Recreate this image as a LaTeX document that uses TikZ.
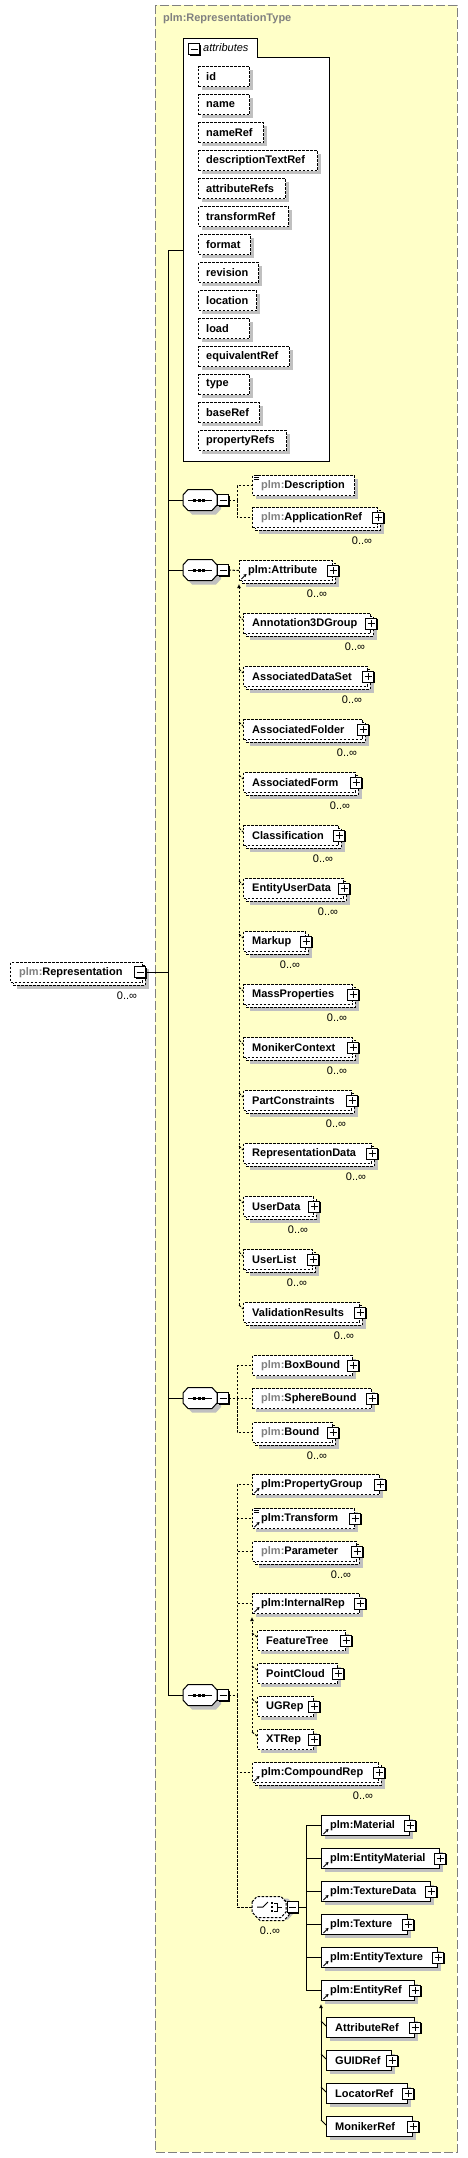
\documentclass[tikz,border=0pt]{standalone}
\usepackage{fontspec}
\setmainfont{Liberation Sans}
\usetikzlibrary{calc,arrows.meta}
\definecolor{yel}{RGB}{255,255,200}
\definecolor{shd}{RGB}{192,192,192}
\definecolor{pfx}{RGB}{128,128,128}
\definecolor{frm}{RGB}{128,128,128}
\newcommand\bh{20}
% single element box: name, left, top, right, style, text
\newcommand\ElS[6]{%
  \fill[shdfill] ({#2+4},{#3+4}) rectangle ({#4+4},{#3+\bh+4});
  \node[#5, minimum width={#4-#2}, minimum height=\bh, anchor=north west] (#1) at (#2,#3) {};
  \node[lbl] (#1-t) at ($(#1.west)+(9,0)$) {#6};
}
% multiple element box
\newcommand\ElM[6]{%
  \fill[shdfill] ({#2+7},{#3+7}) rectangle ({#4+7},{#3+\bh+7});
  \path[#5] ({#2+3},{#3+3}) rectangle ({#4+3},{#3+\bh+3});
  \node[#5, minimum width={#4-#2}, minimum height=\bh, anchor=north west] (#1) at (#2,#3) {};
  \node[lbl] (#1-t) at ($(#1.west)+(9,0)$) {#6};
  \node[occ] (#1-o) at ({#4-15},{#3+34}) {0..∞};
}
\newcommand\PlusAt[1]{%
  \fill ($(#1)+(-4.5,-4.5)$) rectangle ($(#1)+(6.5,6.5)$);
  \draw[line width=1pt, fill=white] ($(#1)+(-5.5,-5.5)$) rectangle ($(#1)+(5.5,5.5)$);
  \draw[line width=1pt] ($(#1)+(-3.5,0)$) -- ($(#1)+(3.5,0)$) ($(#1)+(0,-3.5)$) -- ($(#1)+(0,3.5)$);
}
\newcommand\MinusAt[1]{%
  \fill ($(#1)+(-4.5,-4.5)$) rectangle ($(#1)+(6.5,6.5)$);
  \draw[line width=1pt, fill=white] ($(#1)+(-5.5,-5.5)$) rectangle ($(#1)+(5.5,5.5)$);
  \draw[line width=1pt] ($(#1)+(-3.5,0)$) -- ($(#1)+(3.5,0)$);
}
\newcommand\Plus[1]{\PlusAt{#1.east}}
\newcommand\RefI[1]{\draw[line width=1pt, -{Stealth[length=3pt,width=3.5pt]}] ($(#1.south west)+(2.5,-2)$) -- ($(#1.south west)+(7.5,-7)$);}
\newcommand\DocI[1]{\foreach \yy in {0.3,2.1,3.9} \draw[line width=0.7pt] ($(#1.north west)+(2,\yy)$) -- ($(#1.north west)+(7,\yy)$);}
% sequence compositor: name, left, center y
\newcommand\SeqOct[3]{%
  \fill[shdfill] ({#2+4},{#3-1}) -- ({#2+9},{#3-6.5}) -- ({#2+33},{#3-6.5}) -- ({#2+38},{#3-1}) -- ({#2+38},{#3+9}) -- ({#2+33},{#3+14.5}) -- ({#2+9},{#3+14.5}) -- ({#2+4},{#3+9}) -- cycle;
  \draw[line width=1pt, fill=white] ({#2},{#3-5}) -- ({#2+5},{#3-10.5}) -- ({#2+29},{#3-10.5}) -- ({#2+34},{#3-5}) -- ({#2+34},{#3+5}) -- ({#2+29},{#3+10.5}) -- ({#2+5},{#3+10.5}) -- ({#2},{#3+5}) -- cycle;
  \node[inner sep=0pt, minimum width=34, minimum height=21] (#1) at ({#2+17},#3) {};
  \draw[line width=1pt] ({#2+5},#3) -- ({#2+29},#3);
  \foreach \xx in {11.3,16,20.7} {\fill ({#2+\xx-1.5},{#3-1.5}) rectangle ({#2+\xx+1.5},{#3+1.5});}
  \coordinate (#1-m) at ({#2+40},#3);
  \MinusAt{#1-m}
  \coordinate (#1-x) at ({#2+45.5},#3);
}
\begin{document}
\begin{tikzpicture}[x=1pt,y=-1pt,
  shdfill/.style={fill=shd},
  dbox/.style={draw=black, fill=white, line width=1pt, dash pattern=on 2.5pt off 1.5pt, inner sep=0pt},
  sbox/.style={draw=black, fill=white, line width=1pt, inner sep=0pt},
  lbl/.style={font=\fontsize{11}{13}\selectfont\bfseries, anchor=west, inner sep=0pt},
  occ/.style={font=\fontsize{11}{13}\selectfont, inner sep=0pt},
  conn/.style={line width=1pt},
  dconn/.style={line width=1pt, dash pattern=on 2.5pt off 1.5pt},
  sub/.style={-{Latex[length=4pt,width=4pt]}},
]
\useasboundingbox (0,0) rectangle (468,2158);
% outer type frame
\draw[frm, fill=yel, line width=1pt, dash pattern=on 9pt off 3pt] (155,5) rectangle (457,2152);
\node[lbl, text=pfx] (title) at (163,19) {plm:RepresentationType};

% root element
\ElM{root}{10}{962}{142}{dbox}{{\color{pfx}plm:}Representation}
\coordinate (root-m) at (140,972);
\MinusAt{root-m}
\coordinate (root-x) at (146,972);

% trunk
\coordinate (t0) at (168,250);
\coordinate (t5) at (168,1695);
\coordinate (troot) at (168,972);
\draw[conn] (t0) -- (t5);
\draw[conn] (root-x) -- (troot);

% attributes box
\draw[line width=1pt, fill=white] (183,38) -- (257,38) -- (257,57) -- (329,57) -- (329,461) -- (183,461) -- cycle;
\node[inner sep=0pt, minimum width=146, minimum height=404, anchor=north west] (attrs) at (183,57) {};
\coordinate (attrs-m) at (194,49);
\MinusAt{attrs-m}
\node[anchor=west, inner sep=0pt, font=\fontsize{11}{13}\selectfont\itshape] (attrs-t) at (203,48) {attributes};
\draw[conn] (t0) -- (t0 -| attrs.west);
\foreach \nm/\rr [count=\k from 0] in {id/249,name/249,nameRef/263,descriptionTextRef/317,attributeRefs/285,transformRef/288,format/250,revision/258,location/256,load/249,equivalentRef/289,type/249,baseRef/259,propertyRefs/286} {
  \pgfmathsetmacro\tp{66+28*\k}
  \fill[shdfill] (202,{\tp+4}) rectangle ({\rr+4},{\tp+24});
  \node[dbox, minimum width={\rr-198}, minimum height=20, anchor=north west] (at\k) at (198,\tp) {};
  \node[lbl] (at\k-t) at ($(at\k.west)+(8,0)$) {\nm};
}

% sequence 1
\SeqOct{s1}{183}{500}
\draw[conn] (t0 |- s1.west) -- (s1.west);
\ElS{desc}{252}{475}{354}{dbox}{{\color{pfx}plm:}Description}
\DocI{desc}
\ElM{appref}{252}{507}{377}{dbox}{{\color{pfx}plm:}ApplicationRef}
\Plus{appref}
\coordinate (s1-v) at (237,500);
\draw[dconn] (s1-x) -- (s1-v);
\draw[dconn] (s1-v) |- (desc.west);
\draw[dconn] (s1-v) |- (appref.west);

% sequence 2
\SeqOct{s2}{183}{570}
\draw[conn] (t0 |- s2.west) -- (s2.west);
\ElM{attr}{239}{560}{332}{dbox}{plm:Attribute}
\RefI{attr}
\Plus{attr}
\draw[dconn] (s2-x) -- (attr.west);
\foreach \nm/\rr [count=\k from 0] in {Annotation3DGroup/370,AssociatedDataSet/367,AssociatedFolder/362,AssociatedForm/355,Classification/338,EntityUserData/343,Markup/305,MassProperties/352,MonikerContext/352,PartConstraints/351,RepresentationData/371,UserData/313,UserList/312,ValidationResults/359} {
  \pgfmathsetmacro\tp{613+53*\k}
  \ElM{ag\k}{243}{\tp}{\rr}{dbox}{\nm}
  \Plus{ag\k}
  \draw[dconn] ($(ag\k.north west)+(-4,3)$) -- ($(ag\k.north west)+(0,7)$);
}
\coordinate (subA-top) at (239,584);
\coordinate (subA-end) at (239,1305);
\draw[dconn, sub] (subA-end) -- (subA-top);

% sequence 3
\SeqOct{s3}{183}{1398}
\draw[conn] (t0 |- s3.west) -- (s3.west);
\ElS{bb}{252}{1355}{352}{dbox}{{\color{pfx}plm:}BoxBound}
\Plus{bb}
\ElS{sb}{252}{1388}{371}{dbox}{{\color{pfx}plm:}SphereBound}
\Plus{sb}
\ElM{bd}{252}{1422}{332}{dbox}{{\color{pfx}plm:}Bound}
\Plus{bd}
\coordinate (s3-v) at (237,1398);
\draw[dconn] (s3-x) -- (s3-v);
\draw[dconn] (s3-v) |- (bb.west);
\draw[dconn] (s3-v) |- (sb.west);
\draw[dconn] (s3-v) |- (bd.west);

% sequence 4
\SeqOct{s4}{183}{1695}
\draw[conn] (t5) -- (s4.west);
\ElS{pg}{252}{1474}{379}{dbox}{plm:PropertyGroup}
\RefI{pg}\Plus{pg}
\ElS{tr}{252}{1508}{354}{dbox}{plm:Transform}
\RefI{tr}\DocI{tr}\Plus{tr}
\ElM{pa}{252}{1541}{356}{dbox}{{\color{pfx}plm:}Parameter}
\Plus{pa}
\ElS{ir}{252}{1593}{359}{dbox}{plm:InternalRep}
\RefI{ir}\Plus{ir}
\foreach \nm/\rr [count=\k from 0] in {FeatureTree/345,PointCloud/337,UGRep/313,XTRep/313} {
  \pgfmathsetmacro\tp{1630+33*\k}
  \ElS{ir\k}{257}{\tp}{\rr}{dbox}{\nm}
  \Plus{ir\k}
  \draw[dconn] ($(ir\k.north west)+(-5,3)$) -- ($(ir\k.north west)+(0,7)$);
}
\coordinate (subI-top) at (252,1617);
\coordinate (subI-end) at (252,1732);
\draw[dconn, sub] (subI-end) -- (subI-top);
\ElM{cr}{252}{1762}{378}{dbox}{plm:CompoundRep}
\RefI{cr}\Plus{cr}

% choice compositor
\fill[shdfill] (259,1904) -- (264,1898.5) -- (288,1898.5) -- (293,1904) -- (293,1914) -- (288,1919.5) -- (264,1919.5) -- (259,1914) -- cycle;
\draw[dconn, fill=white] (255,1905) -- (260,1899.5) -- (284,1899.5) -- (289,1905) -- (289,1915) -- (284,1920.5) -- (260,1920.5) -- (255,1915) -- cycle;
\draw[dconn, fill=white] (252,1902) -- (257,1896.5) -- (281,1896.5) -- (286,1902) -- (286,1912) -- (281,1917.5) -- (257,1917.5) -- (252,1912) -- cycle;
\node[inner sep=0pt, minimum width=34, minimum height=21] (ch) at (269,1907) {};
\draw[line width=1pt] (257,1907) -- (263,1907) -- (268,1902);
\foreach \yy in {1903,1907,1911} {\fill (270.6,{\yy-1.4}) rectangle (273.4,{\yy+1.4});}
\draw[line width=1pt] (274,1903) -- (277,1903) -- (277,1911) -- (274,1911) (277,1907) -- (282,1907);
\coordinate (ch-m) at (292.5,1907);
\MinusAt{ch-m}
\coordinate (ch-x) at (298,1907);
\node[occ] (ch-o) at (270,1931) {0..∞};
\coordinate (s4-v) at (237,1695);
\draw[dconn] (s4-x) -- (s4-v);
\draw[dconn] (s4-v) |- (pg.west);
\draw[dconn] (s4-v) |- (tr.west);
\draw[dconn] (s4-v) |- (pa.west);
\draw[dconn] (s4-v) |- (ir.west);
\draw[dconn] (s4-v) |- (cr.west);
\draw[dconn] (s4-v) |- (ch.west);

% choice children
\coordinate (chv) at (306,1907);
\draw[conn] (ch-x) -- (chv);
\foreach \nm/\rr [count=\k from 0] in {Material/409,EntityMaterial/439,TextureData/430,Texture/407,EntityTexture/437,EntityRef/414} {
  \pgfmathsetmacro\tp{1815+33*\k}
  \ElS{cc\k}{321}{\tp}{\rr}{sbox}{plm:\nm}
  \RefI{cc\k}\Plus{cc\k}
  \draw[conn] (chv) |- (cc\k.west);
}
\foreach \nm/\rr [count=\k from 0] in {AttributeRef/414,GUIDRef/391,LocatorRef/407,MonikerRef/412} {
  \pgfmathsetmacro\tp{2017+33*\k}
  \ElS{er\k}{326}{\tp}{\rr}{sbox}{\nm}
  \Plus{er\k}
  \draw[conn] ($(er\k.north west)+(-5,4)$) -- ($(er\k.north west)+(0,9)$);
}
\coordinate (subE-top) at (321,2004);
\coordinate (subE-end) at (321,2121);
\draw[conn, sub] (subE-end) -- (subE-top);
\end{tikzpicture}
\end{document}
